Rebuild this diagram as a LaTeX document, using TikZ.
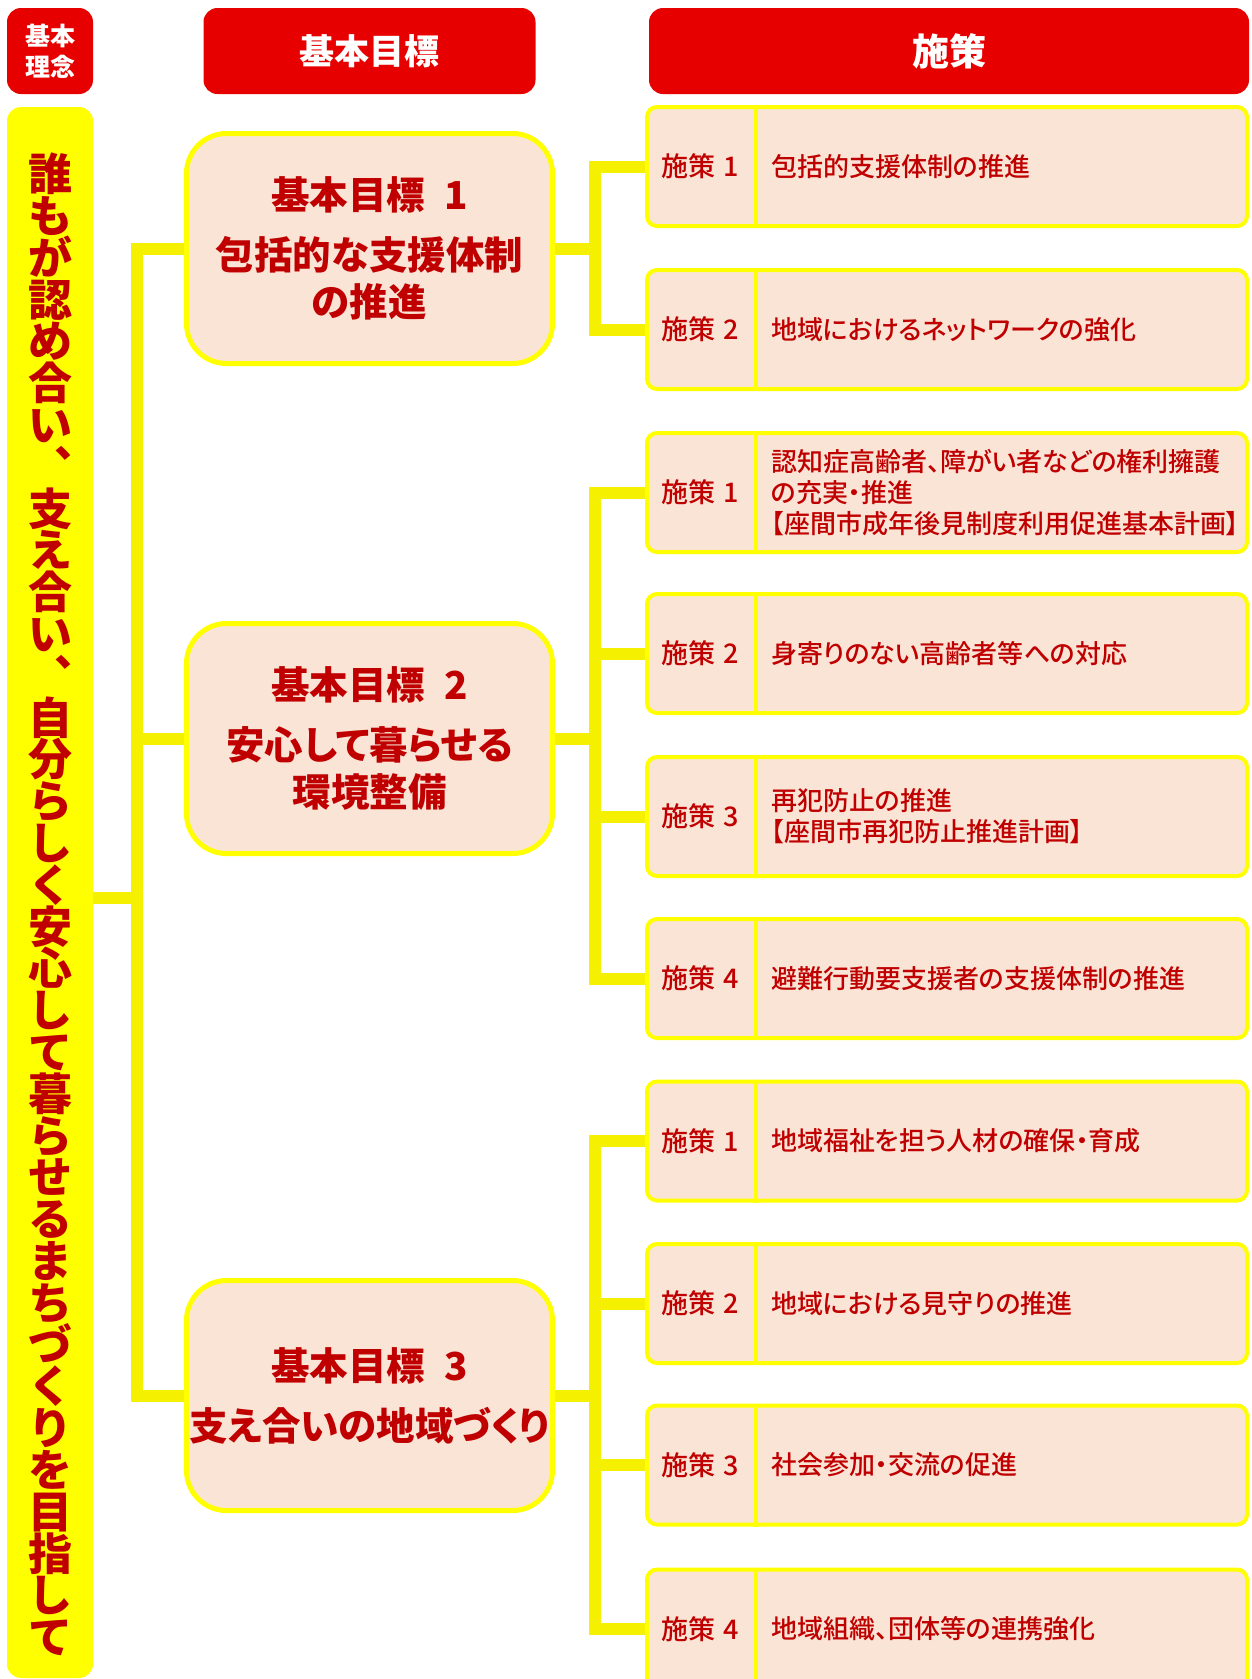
\documentclass[tikz,border=0pt]{standalone}
\usepackage{fontspec}
\setmainfont{Noto Sans CJK JP}[RawFeature=+palt]
\newfontfamily\medfont{Noto Sans CJK JP Medium}[RawFeature=+palt]
\newfontfamily\tatefont{Noto Sans CJK JP}
\usetikzlibrary{backgrounds}
\definecolor{hdred}{RGB}{230,0,0}
\definecolor{txred}{RGB}{192,0,0}
\definecolor{barylw}{RGB}{255,255,0}
\definecolor{lnylw}{RGB}{245,240,0}
\definecolor{boxpink}{RGB}{250,228,214}
\begin{document}
\begin{tikzpicture}[x=1pt,y=-1pt,
		header/.style={fill=hdred, rounded corners=14pt, text=white, align=center, inner sep=0pt, minimum height=86pt},
		goal/.style={draw=barylw, line width=5pt, fill=boxpink, rounded corners=40pt, minimum width=366pt, minimum height=230pt,
			align=center, text=txred, inner sep=0pt, font=\bfseries\fontsize{38.5}{47}\selectfont},
		sbox/.style={draw=barylw, line width=4pt, fill=boxpink, rounded corners=10pt, minimum width=600pt, minimum height=119pt, inner sep=0pt},
		divider/.style={draw=barylw, line width=4pt},
		slabel/.style={text=txred, inner sep=0pt, font=\medfont\fontsize{27}{31}\selectfont},
		stext/.style={anchor=west, align=left, text=txred, inner sep=0pt, font=\medfont\fontsize{26}{31}\selectfont},
		tate/.style={text=txred, inner sep=0pt, text height=38.7pt, text depth=5.3pt, font=\tatefont\bfseries\fontsize{44}{44}\selectfont},
		conn/.style={draw=lnylw, line width=12pt}]
	\useasboundingbox (0,0) rectangle (1251,1679);

	\node[header, minimum width=86pt, font=\bfseries\fontsize{25}{31}\selectfont] (h0) at (50,51) {基本\\理念};
	\node[header, minimum width=332pt, font=\bfseries\fontsize{35}{40}\selectfont] (h1) at (369.5,51) {基本目標};
	\node[header, minimum width=600pt, font=\bfseries\fontsize{37}{40}\selectfont] (h2) at (949,51) {施策};

	\node[fill=barylw, rounded corners=14pt, minimum width=86pt, minimum height=1571pt, inner sep=0pt] (bar) at (50,892.5) {};
	\foreach \ch [count=\i from 0] in {誰,も,が,認,め,合,い,︑,支,え,合,い,︑,自,分,ら,し,く,安,心,し,て,
			暮,ら,せ,る,ま,ち,づ,く,り,を,目,指,し,て}
		\node[tate] (v\i) at (50,173.9+\i*41.8) {\ch};

	\foreach \g/\y/\txt in {1/248.5/{基本目標\hspace{0.5em}1\\[13pt]包括的な支援体制\\の推進},
			2/738.5/{基本目標\hspace{0.5em}2\\[13pt]安心して暮らせる\\環境整備},
			3/1395.5/{基本目標\hspace{0.5em}3\\[13pt]支え合いの地域づくり}}
		\node[goal] (g\g) at (369.5,\y) {\txt};

	\foreach \nm/\y/\num/\txt in {11/166.5/1/{包括的支援体制の推進},
			12/329.5/2/{地域におけるネットワークの強化},
			21/492.5/1/{認知症高齢者、障がい者などの権利擁護\\の充実・推進\\【座間市成年後見制度利用促進基本計画】},
			22/653.5/2/{身寄りのない高齢者等への対応},
			23/816.5/3/{再犯防止の推進\\【座間市再犯防止推進計画】},
			24/978.5/4/{避難行動要支援者の支援体制の推進},
			31/1141/1/{地域福祉を担う人材の確保・育成},
			32/1303.5/2/{地域における見守りの推進},
			33/1465/3/{社会参加・交流の促進},
			34/1629/4/{地域組織、団体等の連携強化}}{
		\node[sbox] (s\nm) at (947,\y) {};
		\draw[divider] ([xshift=111pt]s\nm.north west) -- ([xshift=111pt]s\nm.south west);
		\node[slabel] (l\nm) at ([xshift=55pt]s\nm.west) {施策\hspace{0.3em}\num};
		\node[stext] (t\nm) at ([xshift=126pt]s\nm.west) {\txt};
	}

	\begin{scope}[on background layer]
		\coordinate (m) at (137,898);
		\draw[conn] (g1.west) -| (m) |- (g3.west);
		\draw[conn] (m |- g2.west) -- (g2.west);
		\draw[conn] (bar.east |- m) -- (m);
		\foreach \g in {1,2,3}
			\draw[conn] (g\g.east) -- ++(40,0) coordinate (j\g);
		\draw[conn] (s11.west) -| (j1) |- (s12.west);
		\draw[conn] (s21.west) -| (j2) |- (s24.west);
		\draw[conn] (s31.west) -| (j3) |- (s34.west);
		\foreach \nm/\g in {22/2,23/2,32/3,33/3}
			\draw[conn] (s\nm.west -| j\g) -- (s\nm.west);
	\end{scope}
\end{tikzpicture}
\end{document}
